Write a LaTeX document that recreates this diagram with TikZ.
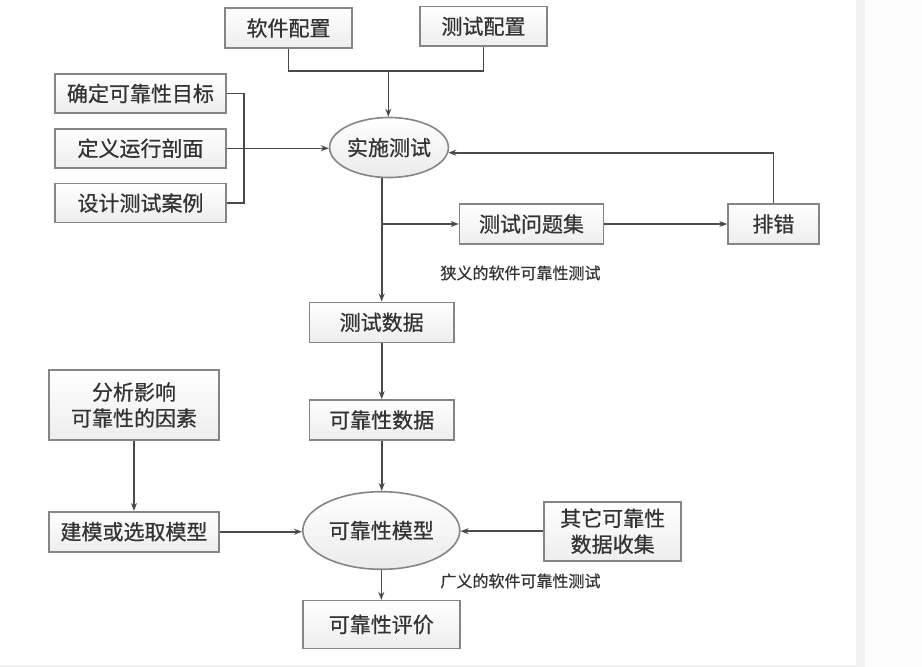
\documentclass[tikz,border=0pt]{standalone}
\usepackage{fontspec}
\newfontfamily\cjk[FakeBold=0.6]{Noto Sans CJK SC}
\usetikzlibrary{arrows.meta,shapes.geometric,calc}
\definecolor{edge}{HTML}{858585}
\definecolor{wire}{HTML}{4A4A4A}
\definecolor{ink}{HTML}{333333}
\definecolor{strip}{HTML}{F2F2F2}
\tikzset{
  box/.style={rectangle, draw=edge, line width=1.6pt, top color=white, bottom color=gray!14,
    text=ink, font=\cjk\fontsize{21}{26}\selectfont, align=center, inner sep=0pt},
  oval/.style={ellipse, draw=edge, line width=1.6pt, top color=white, bottom color=gray!16,
    text=ink, font=\cjk\fontsize{21}{26}\selectfont, inner sep=0pt},
  note/.style={text=ink, font=\cjk\fontsize{16}{19}\selectfont, inner sep=0pt},
  wireline/.style={draw=wire, line width=1.6pt},
  arr/.style={wireline, -{Stealth[length=8pt,width=6pt]}}
}
\begin{document}
\begin{tikzpicture}[x=1pt,y=-1pt]
\useasboundingbox (0,0) rectangle (922,667);
\fill[white] (0,0) rectangle (922,667);
\fill[strip] (856,0) rectangle (865,667);
\fill[strip] (0,665) rectangle (856,667);
\fill[white!99!black] (865,0) rectangle (922,667);

% nodes
\node[box, minimum width=127pt, minimum height=39.5pt] (ruanjian) at (288.5,28) {软件配置};
\node[box, minimum width=127pt, minimum height=39.5pt] (ceshipz) at (483.5,26.3) {测试配置};
\node[box, minimum width=170.5pt, minimum height=39pt] (mubiao) at (140.5,93.5) {确定可靠性目标};
\node[box, minimum width=170.5pt, minimum height=39pt] (poumian) at (140.5,148.3) {定义运行剖面};
\node[box, minimum width=170.5pt, minimum height=39pt] (anli) at (140.5,203) {设计测试案例};
\node[oval, minimum width=118pt, minimum height=60pt] (shishi) at (389,147.5) {实施测试};
\node[box, minimum width=144pt, minimum height=40pt] (wenti) at (531.5,224) {测试问题集};
\node[box, minimum width=91pt, minimum height=40pt] (paicuo) at (773.5,224) {排错};
\node[note] (narrow) at (520.5,273) {狭义的软件可靠性测试};
\node[box, minimum width=144.5pt, minimum height=40pt] (shuju) at (381.7,322.3) {测试数据};
\node[box, minimum width=144.5pt, minimum height=40pt] (kkshuju) at (381.7,420) {可靠性数据};
\node[box, minimum width=170pt, minimum height=70pt] (fenxi) at (134,405) {分析影响\\可靠性的因素};
\node[box, minimum width=170pt, minimum height=40pt] (jianmo) at (134,531.7) {建模或选取模型};
\node[oval, minimum width=157pt, minimum height=77.6pt] (moxing) at (381.3,530.5) {可靠性模型};
\node[box, minimum width=137pt, minimum height=59pt] (qita) at (612.7,531.2) {其它可靠性\\数据收集};
\node[note] (broad) at (520.5,581) {广义的软件可靠性测试};
\node[box, minimum width=157pt, minimum height=47.7pt] (pingjia) at (381.3,624.5) {可靠性评价};

% connectors
\coordinate (join) at (388.3,71);
\draw[wireline] (ruanjian.south) -- (ruanjian.south |- join) -- (ceshipz.south |- join) -- (ceshipz.south);
\draw[arr] (join) -- (join |- shishi.north);

\coordinate (brk) at (244,148.3);
\draw[wireline] (mubiao.east) -| (brk) |- (anli.east);
\draw[arr] (poumian.east) -- (poumian.east -| shishi.west);

\draw[arr] (shishi.south -| shuju.north) -- (shuju.north);
\draw[arr] (shuju.north |- wenti.west) -- (wenti.west);
\draw[arr] (wenti.east) -- (paicuo.west);
\coordinate (fb) at ($(shishi.east)+(-0.9,5.2)$);
\draw[arr] (paicuo.north) |- (fb);

\draw[arr] (shuju.south) -- (kkshuju.north);
\draw[arr] (kkshuju.south) -- (kkshuju.south |- moxing.north);
\draw[arr] (fenxi.south) -- (jianmo.north);
\draw[arr] (jianmo.east) -- (jianmo.east -| moxing.west);
\draw[arr] (qita.west) -- (qita.west -| moxing.east);
\draw[arr] (moxing.south) -- (pingjia.north);
\end{tikzpicture}
\end{document}
